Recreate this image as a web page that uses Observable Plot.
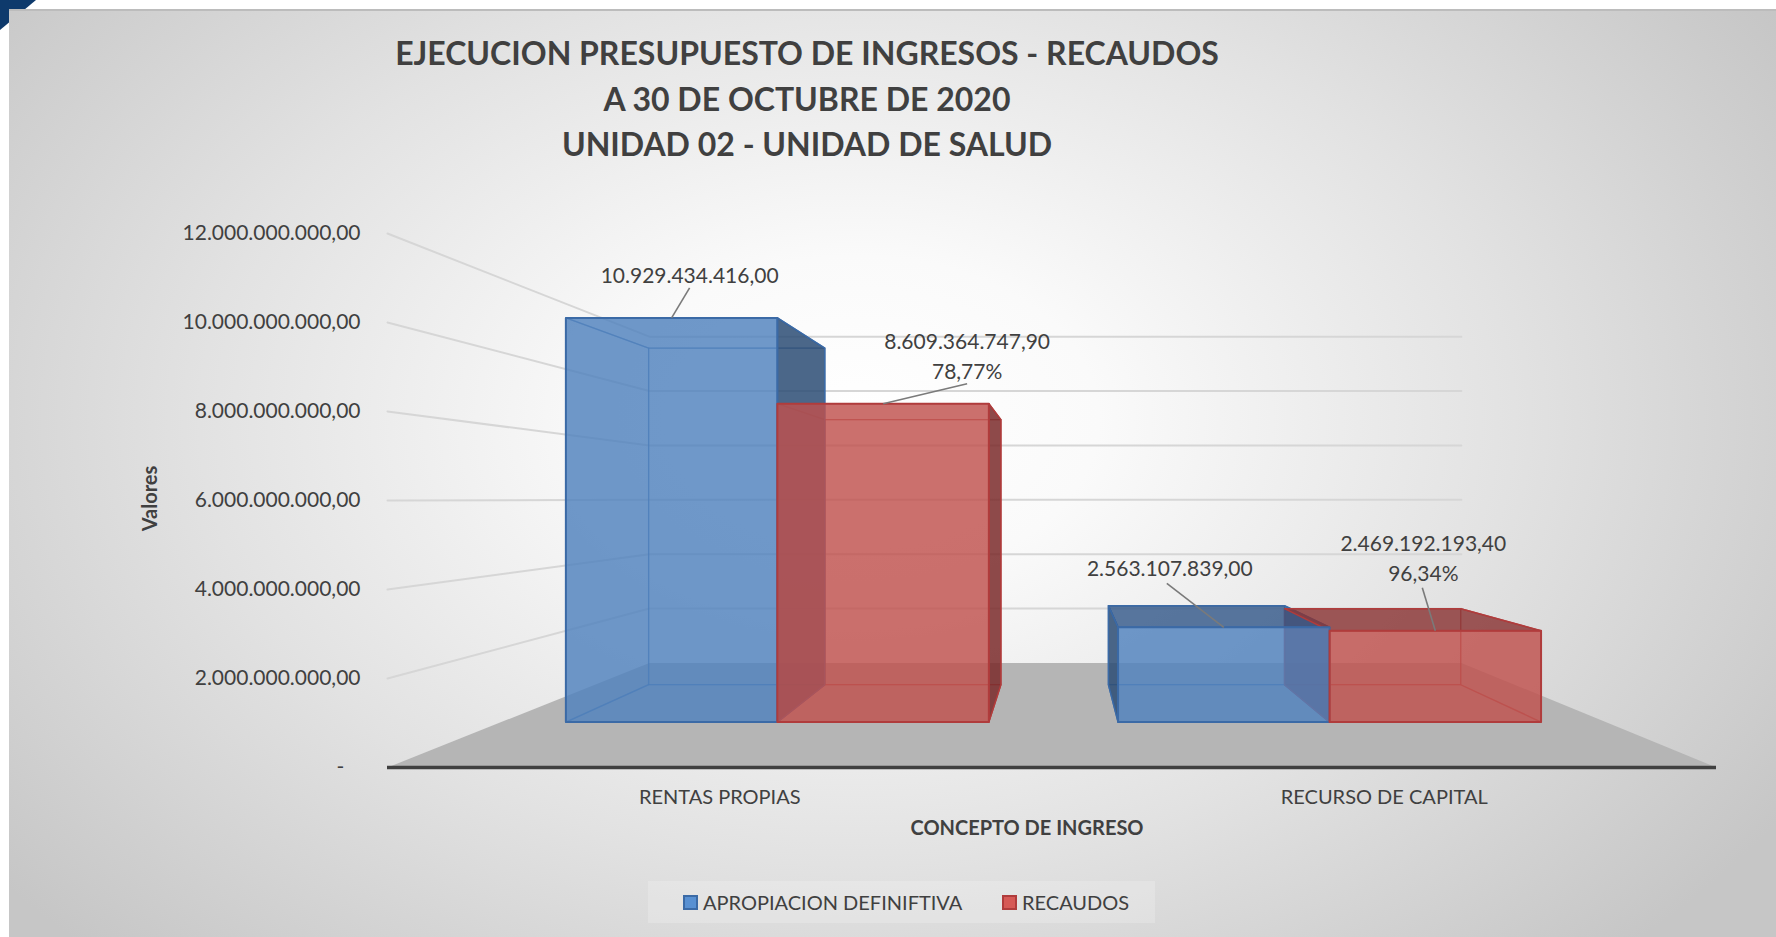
<!DOCTYPE html>
<html>
<head>
<meta charset="utf-8">
<script src="https://cdn.jsdelivr.net/npm/d3@7"></script>
<script src="https://cdn.jsdelivr.net/npm/@observablehq/plot@0.6"></script>
<style>
  html, body { margin: 0; padding: 0; width: 1776px; height: 937px; overflow: hidden; background: #ffffff; font-family: Lato, "Open Sans", sans-serif; }
  #corner { position: absolute; left: 0; top: 0; width: 36px; height: 30px; background: #0e3a6c; clip-path: polygon(0 0, 100% 0, 0 100%); }
  #panel { position: absolute; left: 9px; top: 9px; width: 1767px; height: 928px; border-top: 2px solid #bcbcbc;
    background: radial-gradient(ellipse 62% 80% at 48% 44%, #ffffff 0%, #fafafa 22%, #e2e2e2 60%, #c6c6c6 100%); }
  #title { position: absolute; left: 0; top: 30px; width: 1614px; text-align: center; font-weight: 700; font-size: 32px; line-height: 45.5px; color: #404040; }
  #chart { position: absolute; left: 0; top: 0; }
  #legendbox { position: absolute; left: 648px; top: 881px; width: 507px; height: 42px; background: rgba(255,255,255,0.2); }
  .legitem { position: absolute; top: 890px; height: 24px; display: flex; align-items: center; font-size: 20px; color: #404040; white-space: nowrap; }
  .sw { width: 11px; height: 11px; border: 2px solid; margin-right: 5px; }
</style>
</head>
<body>
<div id="corner"></div>
<div id="panel"></div>
<div id="title"></div>
<div id="chart"></div>
<div id="legendbox"></div>
<div id="legend"></div>
<script>
// ---------- data ----------
const titleLines = ["EJECUCION PRESUPUESTO DE INGRESOS - RECAUDOS", "A 30 DE OCTUBRE DE 2020", "UNIDAD 02 - UNIDAD DE SALUD"];
const categories = ["RENTAS PROPIAS", "RECURSO DE CAPITAL"];
const seriesNames = ["APROPIACION DEFINIFTIVA", "RECAUDOS"];
const apropiacion = [10929434416.00, 2563107839.00];
const recaudos = [8609364747.90, 2469192193.40];
const yTicks = [0, 2e9, 4e9, 6e9, 8e9, 10e9, 12e9];
const yDomain = [0, 12e9];
const xAxisTitle = "CONCEPTO DE INGRESO";
const yAxisTitle = "Valores";

// ---------- layout / style ----------
const W = 1776, H = 937;
const M = {top: 233, right: 60, bottom: 170, left: 387};
const VPX = 1.013, VPV = 6.04e9;            // vanishing point (data units)
const K = {back: 0.611, barFront: 0.831, barBack: 0.692}; // depth scale factors (front wall = 1)
const BAR_W = 0.383;                          // bar width in category units
const seriesStyle = [
  {front: "#4f81bd", side: "#2b4c74", top: "#35598a", edge: "#3b6aa6"},
  {front: "#c0504d", side: "#7a2a2a", top: "#8a3535", edge: "#b03c3c"}
];
// data label / leader offsets (px) from the top-front centre of each bar, [category][series]
const labelOffsets = [
  [{tx: 18, ty: -45, lx: 18, ly: -30}, {tx: 84, ty: -49, lx: 84, ly: -20}],
  [{tx: -54, ty: -61, lx: -57, ly: -44}, {tx: -12, ty: -74, lx: -13, ly: -43}]
];
const xPerUnit = (W - M.left - M.right) / 2;
const yPerVal = (H - M.top - M.bottom) / (yDomain[1] - yDomain[0]);

const loc = d3.formatLocale({decimal: ",", thousands: ".", grouping: [3], currency: ["$", ""]});
const fmtNum = loc.format(",.2f");
const fmtTick = v => v === 0 ? "-\u00a0\u00a0\u00a0" : fmtNum(v);
const fmtPct = r => (r * 100).toFixed(2).replace(".", ",") + "%";

// ---------- geometry (perspective projection in data space) ----------
const P = (x, v, k) => ({x: VPX + (x - VPX) * k, y: VPV + (v - VPV) * k});

const bars = [];
categories.forEach((cat, i) => {
  [apropiacion, recaudos].forEach((vals, s) => {
    const x0 = i + 0.5 + (s - 1) * BAR_W;
    bars.push({cat, i, s, v: vals[i], x0, x1: x0 + BAR_W});
  });
});

function faceCorners(b, type) {
  const {x0, x1, v} = b, kf = K.barFront, kb = K.barBack;
  switch (type) {
    case "front": return [P(x0,0,kf), P(x1,0,kf), P(x1,v,kf), P(x0,v,kf)];
    case "back": return [P(x0,0,kb), P(x1,0,kb), P(x1,v,kb), P(x0,v,kb)];
    case "left": return [P(x0,0,kf), P(x0,0,kb), P(x0,v,kb), P(x0,v,kf)];
    case "right": return [P(x1,0,kf), P(x1,0,kb), P(x1,v,kb), P(x1,v,kf)];
    case "top": return [P(x0,v,kf), P(x1,v,kf), P(x1,v,kb), P(x0,v,kb)];
    case "bottom": return [P(x0,0,kf), P(x1,0,kf), P(x1,0,kb), P(x0,0,kb)];
  }
}
function polys(list) {
  const out = [];
  list.forEach(({b, type}) => {
    const c = faceCorners(b, type);
    const st = seriesStyle[b.s];
    const fill = type === "front" ? st.front : type === "top" ? st.top : st.side;
    [...c, c[0]].forEach(p => out.push({id: `${b.i}-${b.s}-${type}`, x: p.x, y: p.y, fill, stroke: st.edge}));
  });
  return out;
}
const hidden = polys(bars.flatMap(b => ["back", "bottom", "left", "right", "top"].map(type => ({b, type}))));
const sides = polys(bars.flatMap(b => {
  const f = [];
  if (b.x0 > VPX) f.push({b, type: "left"});
  if (b.x1 < VPX) f.push({b, type: "right"});
  return f;
}));
const tops = polys(bars.filter(b => b.v < VPV).map(b => ({b, type: "top"})));
const fronts = polys(bars.map(b => ({b, type: "front"})));

const floor = [P(0,0,1), P(2,0,1), P(2,0,K.back), P(0,0,K.back), P(0,0,1)].map(p => ({...p, id: "floor"}));
const grid = yTicks.filter(v => v > 0).flatMap(v => [P(0,v,1), P(0,v,K.back), P(2,v,K.back)].map(p => ({...p, id: v})));

const labels = bars.map(b => {
  const a = P((b.x0 + b.x1) / 2, b.v, K.barFront);
  const o = labelOffsets[b.i][b.s];
  const text = b.s === 0 ? fmtNum(b.v) : fmtNum(b.v) + "\n" + fmtPct(recaudos[b.i] / apropiacion[b.i]);
  return {
    ax: a.x, ay: a.y,
    tx: a.x + o.tx / xPerUnit, ty: a.y - o.ty / yPerVal,
    lx: a.x + o.lx / xPerUnit, ly: a.y - o.ly / yPerVal,
    text
  };
});

const chart = Plot.plot({
  width: W, height: H,
  marginTop: M.top, marginRight: M.right, marginBottom: M.bottom, marginLeft: M.left,
  style: {background: "transparent", fontFamily: "Lato, 'Open Sans', sans-serif", color: "#404040", overflow: "visible"},
  x: {domain: [0, 2], axis: null},
  y: {domain: yDomain, axis: null},
  color: {type: "identity"},
  marks: [
    Plot.line(grid, {x: "x", y: "y", z: "id", stroke: "#d6d6d6", strokeWidth: 2}),
    Plot.line(floor, {x: "x", y: "y", z: "id", fill: "#b5b5b5", stroke: "none"}),
    Plot.ruleY([0], {stroke: "#404040", strokeWidth: 3.5}),
    Plot.line(hidden, {x: "x", y: "y", z: "id", stroke: "stroke", strokeWidth: 1.3, strokeOpacity: 0.55}),
    Plot.line(sides, {x: "x", y: "y", z: "id", fill: "fill", fillOpacity: 0.85, stroke: "stroke", strokeWidth: 1.5}),
    Plot.line(tops, {x: "x", y: "y", z: "id", fill: "fill", fillOpacity: 0.82, stroke: "stroke", strokeWidth: 1.5}),
    Plot.line(fronts, {x: "x", y: "y", z: "id", fill: "fill", fillOpacity: 0.82, stroke: "stroke", strokeWidth: 2}),
    Plot.axisY({ticks: yTicks, tickFormat: fmtTick, tickSize: 0, tickPadding: 27, fontSize: 21, label: null, anchor: "left"}),
    Plot.text(categories, {x: (d, i) => i + 0.5, y: 0, text: d => d, dy: 30, fontSize: 20, fill: "#404040"}),
    Plot.link(labels, {x1: "ax", y1: "ay", x2: "lx", y2: "ly", stroke: "#7a7a7a", strokeWidth: 1.6}),
    Plot.text(labels, {x: "tx", y: "ty", text: "text", fontSize: 21, lineHeight: 1.43, fill: "#404040"}),
    Plot.text([yAxisTitle], {frameAnchor: "left", text: d => d, rotate: -90, dx: -237, dy: -2, textAnchor: "middle", lineAnchor: "middle", fontWeight: "bold", fontSize: 20, fill: "#404040"}),
    Plot.text([xAxisTitle], {frameAnchor: "bottom", text: d => d, dx: -25, dy: 61, textAnchor: "middle", lineAnchor: "middle", fontWeight: "bold", fontSize: 20, fill: "#404040"})
  ]
});
document.getElementById("chart").appendChild(chart);

document.getElementById("title").innerHTML = titleLines.map(t => `<div>${t}</div>`).join("");

const legendPos = [683, 1002];
document.getElementById("legend").innerHTML = seriesNames.map((n, s) =>
  `<div class="legitem" style="left:${legendPos[s]}px"><div class="sw" style="background:${d3.color(seriesStyle[s].front).brighter(0.3)};border-color:${seriesStyle[s].edge}"></div>${n}</div>`
).join("");
</script>
</body>
</html>
